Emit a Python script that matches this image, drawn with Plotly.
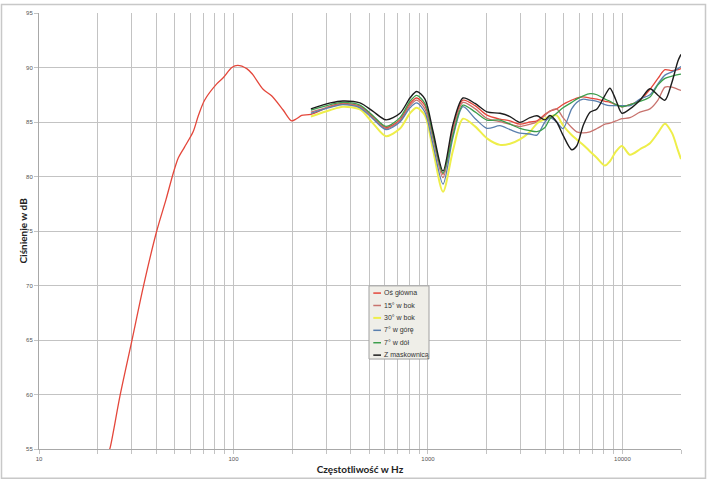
import plotly.graph_objects as go

# ---------------- data ----------------
# main axis, low-frequency part (Hz, dB)
f_low = [22.5, 23.2, 26.1, 30.0, 34.4, 40.3, 45, 49, 52, 56, 62, 66, 71, 82, 89, 98, 105,
         117, 125, 142, 157, 180, 199, 211, 224]
main_low = [54.4, 55.1, 59.9, 64.9, 69.9, 75.0, 77.9, 80.3, 81.7, 82.7, 84.1, 85.6, 87.0,
            88.5, 89.1, 90.0, 90.2, 89.9, 89.4, 88.0, 87.4, 86.1, 85.1, 85.3, 85.6]

# common frequency grid for all six measurements (Hz)
f_mid = [250, 315, 365, 447, 520, 608, 718, 808, 875, 965, 1060, 1195, 1345, 1513, 1745,
         2010, 2345, 2640, 2970, 3345, 3635, 3995, 4240, 4590, 4945, 5480, 5815, 6290,
         6810, 7395, 8130, 8625, 9260, 9940, 10930, 12300, 13850, 15220, 16540, 17970,
         19290, 20000]

main_mid = [85.7, 86.45, 86.7, 86.45, 85.5, 84.5, 85.2, 86.7, 87.2, 86.5, 83.8, 80.2, 84.4,
            87.0, 86.5, 85.63, 85.27, 85.1, 84.8, 85.0, 85.1, 85.7, 86.0, 86.2, 86.6, 87.0,
            87.2, 87.3, 87.2, 87.1, 86.9, 86.8, 86.6, 86.4, 86.6, 87.0, 88.0, 89.0, 89.8,
            89.7, 89.8, 89.9]
side15 = [85.9, 86.4, 86.65, 86.4, 85.4, 84.4, 85.1, 86.5, 87.0, 86.2, 83.5, 79.9, 84.2,
          86.8, 86.23, 85.33, 85.03, 84.8, 84.6, 84.8, 85.0, 85.6, 86.0, 86.2, 85.4, 84.5,
          84.1, 84.0, 84.1, 84.4, 84.8, 84.9, 85.1, 85.3, 85.4, 85.9, 86.2, 87.0, 88.2,
          88.2, 88.0, 87.9]
side30 = [85.5, 86.1, 86.4, 86.15, 84.9, 83.7, 84.4, 85.8, 86.3, 85.6, 82.5, 78.6, 82.4,
          85.3, 84.6, 83.5, 82.9, 83.0, 83.4, 84.1, 84.87, 85.3, 85.5, 85.6, 84.7, 83.8,
          83.4, 82.9, 82.3, 81.7, 81.0, 81.4, 82.3, 82.8, 82.0, 82.5, 83.06, 84.0, 84.85,
          84.0, 82.4, 81.6]
up7 = [85.8, 86.35, 86.6, 86.3, 85.3, 84.3, 85.0, 86.3, 86.75, 85.9, 83.0, 79.3, 83.6,
       86.4, 85.33, 84.42, 84.66, 84.3, 83.97, 83.9, 83.8, 85.0, 85.4, 85.0, 84.4, 86.2,
       86.8, 87.1, 87.0, 86.9, 86.6, 86.5, 86.5, 86.5, 86.5, 87.1, 87.5, 88.5, 89.3,
       89.6, 89.9, 90.1]
down7 = [86.1, 86.6, 86.8, 86.55, 85.6, 84.6, 85.4, 86.9, 87.45, 86.7, 83.9, 80.3, 83.8,
         86.55, 85.93, 85.18, 85.18, 84.8, 84.42, 84.2, 84.12, 84.5, 85.3, 85.8, 86.3,
         86.8, 87.1, 87.4, 87.6, 87.5, 87.1, 86.9, 86.6, 86.4, 86.6, 86.9, 87.3, 88.4,
         89.0, 89.2, 89.35, 89.4]
grille = [86.2, 86.75, 86.93, 86.75, 86.0, 85.2, 85.8, 87.2, 87.8, 87.1, 84.2, 80.5, 84.8,
          87.2, 86.7, 85.93, 85.8, 85.5, 84.97, 85.4, 85.57, 85.2, 85.6, 85.0, 83.8, 82.46,
          82.8, 84.7, 85.9, 86.2, 87.45, 88.1, 87.0, 85.8, 86.2, 87.0, 88.05, 87.45, 87.0,
          88.65, 90.6, 91.2]

series_names = ["Oś główna", "15° w bok", "30° w bok", "7° w górę", "7° w dół", "Z maskownicą"]
series_colors = ["#e4473b", "#c8736e", "#eeee4a", "#5a7fae", "#3c9e4c", "#1c1c1c"]
series_widths = [1.3, 1.3, 2.0, 1.3, 1.3, 1.4]

y_ticks = [55, 60, 65, 70, 75, 80, 85, 90, 95]
x_grid = [m * 10 ** e for e in range(1, 5) for m in range(1, 10)] + [20000]
x_grid = [v for v in x_grid if v <= 20000]
x_labels = {10: "10", 100: "100", 1000: "1000", 10000: "10000"}

# ---------------- figure ----------------
W, H = 708, 483
L, R, T, B = 39, 681, 10, 451


def px(x):
    return (x - L) / (R - L)


def py(y):
    return (B - y) / (B - T)


series_x = [f_low + f_mid, f_mid, f_mid, f_mid, f_mid, f_mid]
series_y = [main_low + main_mid, side15, side30, up7, down7, grille]

fig = go.Figure()
for name, xs, ys, c, w in zip(series_names, series_x, series_y, series_colors, series_widths):
    fig.add_trace(go.Scatter(x=xs, y=ys, mode="lines", name=name,
                             line=dict(color=c, width=w, shape="spline", smoothing=0.8),
                             showlegend=False))

grid_col = "#c3c3c3"
tick_font = dict(family="Liberation Sans, Arial", size=6, color="#555555")
title_font = dict(family="Lato, Open Sans", size=10, color="#222222")

fig.update_xaxes(type="log", range=[1, 4.30103],
                 tickmode="array", tickvals=x_grid,
                 ticktext=[x_labels.get(v, "") for v in x_grid],
                 showgrid=True, gridcolor=grid_col, gridwidth=1,
                 showline=True, linecolor="#a8a8a8", linewidth=1,
                 ticks="outside", ticklen=4, tickcolor=grid_col,
                 tickfont=tick_font, zeroline=False,
                 title=dict(text="<b>Częstotliwość w Hz</b>", font=title_font, standoff=4))
fig.update_yaxes(range=[55, 95], tickmode="array", tickvals=y_ticks,
                 showgrid=True, gridcolor=grid_col, gridwidth=1,
                 showline=True, linecolor="#a8a8a8", linewidth=1,
                 ticks="outside", ticklen=4, tickcolor=grid_col,
                 tickfont=tick_font, zeroline=False)

shapes = []
annotations = []
# y-axis title placed like the original
annotations.append(dict(xref="paper", yref="paper", x=px(23), y=py(230),
                        text="<b>Ciśnienie w dB</b>", textangle=-90, showarrow=False,
                        xanchor="center", yanchor="middle", font=title_font))
# outer chart-area border
shapes.append(dict(type="rect", xref="paper", yref="paper",
                   x0=px(1.5), x1=px(705.5), y0=py(480.5), y1=py(1.5),
                   line=dict(color="#c8c8c8", width=1.5), fillcolor="rgba(0,0,0,0)", layer="below"))

# legend box (manual, compact like the original)
lx0, lx1, ly0, ly1 = 369, 429, 286, 360
shapes.append(dict(type="rect", xref="paper", yref="paper",
                   x0=px(lx0), x1=px(lx1), y0=py(ly1), y1=py(ly0),
                   line=dict(color="#a0a0a0", width=1), fillcolor="#efeee8", layer="above"))
for i, (name, c) in enumerate(zip(series_names, series_colors)):
    yc = 293.3 + i * 12.55
    shapes.append(dict(type="line", xref="paper", yref="paper",
                       x0=px(373.3), x1=px(381), y0=py(yc), y1=py(yc),
                       line=dict(color=c, width=1.5 if i != 2 else 2)))
    annotations.append(dict(xref="paper", yref="paper", x=px(381.5), y=py(yc),
                            text=name, showarrow=False, xanchor="left", yanchor="middle",
                            font=dict(family="Liberation Sans, Arial", size=7, color="#333333")))

fig.update_layout(width=W, height=H,
                  margin=dict(l=L, r=W - R, t=T, b=H - B),
                  paper_bgcolor="white", plot_bgcolor="white",
                  shapes=shapes, annotations=annotations, showlegend=False)

fig.write_html("out.html", config={"displayModeBar": False},
               post_script="document.body.style.margin='0';document.body.style.padding='0';"
                           "document.documentElement.style.overflow='hidden';")
